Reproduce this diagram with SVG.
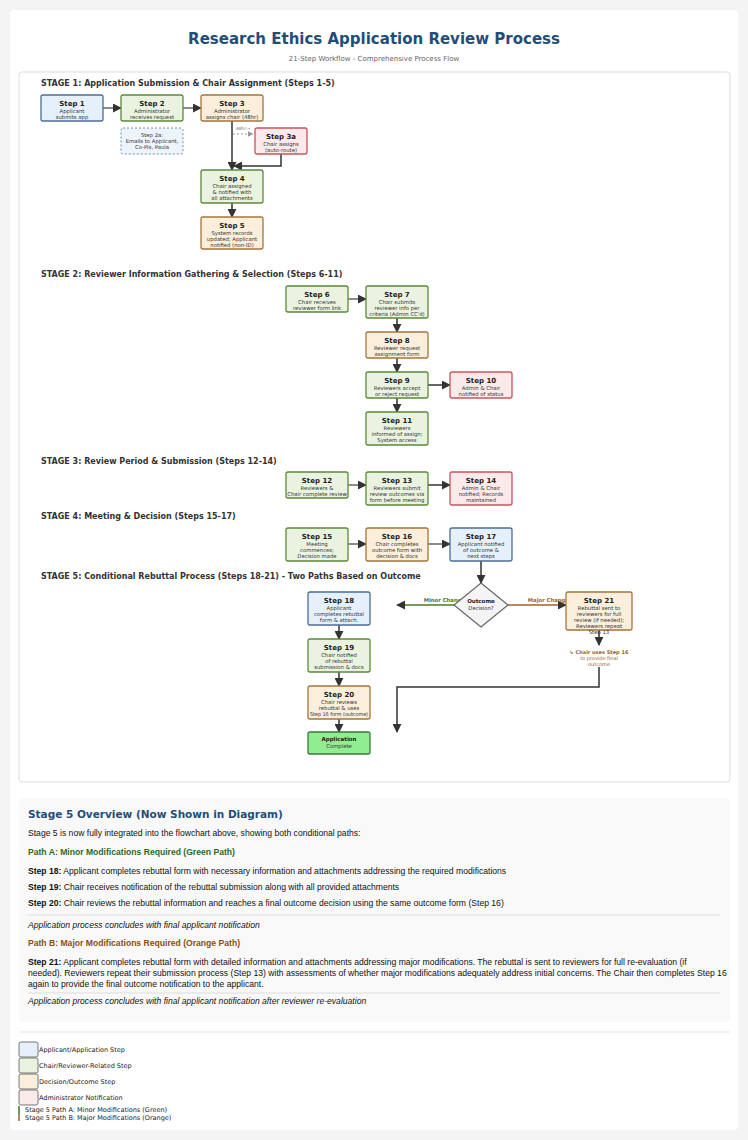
<svg xmlns="http://www.w3.org/2000/svg" width="748" height="1140" viewBox="0 0 748 1140">
<defs>
<marker id="ah" viewBox="0 0 10 10" refX="9" refY="5" markerWidth="6" markerHeight="6" orient="auto"><path d="M0,0L10,5L0,10z" fill="#333"/></marker>
<marker id="ahg" viewBox="0 0 10 10" refX="9" refY="5" markerWidth="6" markerHeight="6" orient="auto"><path d="M0,0L10,5L0,10z" fill="#999"/></marker>
<style>
text{font-family:"DejaVu Sans",sans-serif;fill:#222}
.t{font-size:7px;font-weight:bold;text-anchor:middle}
.s{font-size:5.3px;text-anchor:middle;fill:#333}
.b{fill:#e6f0fa;stroke:#4a6f96;stroke-width:1.3}
.g{fill:#eaf3df;stroke:#5b8a3a;stroke-width:1.3}
.o{fill:#fbeedb;stroke:#a5763e;stroke-width:1.3}
.r{fill:#fce9e9;stroke:#c9555c;stroke-width:1.3}
.st{font-size:8px;font-weight:bold;fill:#333}
.c{stroke:#333;stroke-width:1.5;fill:none;marker-end:url(#ah)}
.p{font-family:"Liberation Sans",Arial,sans-serif;font-size:8.6px;fill:#111}
</style>
</defs>
<rect width="748" height="1140" fill="#f4f4f4"/>
<rect x="10" y="10" width="728" height="1120" rx="4" fill="#fff"/>
<text x="374" y="44" text-anchor="middle" font-size="15" font-weight="bold" style="fill:#1f4e79">Research Ethics Application Review Process</text>
<text x="374" y="61" text-anchor="middle" font-size="7" style="fill:#666">21-Step Workflow - Comprehensive Process Flow</text>
<rect x="19" y="72" width="711" height="710" rx="3" fill="#fff" stroke="#ddd"/>
<text class="st" x="41" y="86">STAGE 1: Application Submission &amp; Chair Assignment (Steps 1-5)</text>
<text class="st" x="41" y="277">STAGE 2: Reviewer Information Gathering &amp; Selection (Steps 6-11)</text>
<text class="st" x="41" y="464">STAGE 3: Review Period &amp; Submission (Steps 12-14)</text>
<text class="st" x="41" y="519">STAGE 4: Meeting &amp; Decision (Steps 15-17)</text>
<text class="st" x="41" y="579">STAGE 5: Conditional Rebuttal Process (Steps 18-21) - Two Paths Based on Outcome</text>
<g id="connectors">
<path class="c" style="stroke:#666" d="M103,108H121"/>
<path class="c" style="stroke:#666" d="M183,108H201"/>
<path d="M233,134H253" stroke="#999" stroke-dasharray="2,2" fill="none" marker-end="url(#ahg)"/>
<text x="243" y="130" font-size="4.5" text-anchor="middle" style="fill:#777">48hr→</text>
<path class="c" d="M232,121V170"/>
<path class="c" d="M281,154V166H234"/>
<path class="c" d="M232,203V217"/>
<path class="c" style="stroke:#666" d="M348,299H366"/>
<path class="c" d="M397,318V332"/>
<path class="c" d="M397,358V372"/>
<path class="c" d="M428,385H450"/>
<path class="c" d="M397,398V412"/>
<path class="c" style="stroke:#666" d="M348,485H366"/>
<path class="c" d="M428,485H450"/>
<path class="c" style="stroke:#666" d="M348,544H366"/>
<path class="c" style="stroke:#666" d="M428,544H450"/>
<path class="c" d="M481,561V583"/>
<path class="c" style="stroke:#4a7a2a" d="M454,605H397"/>
<path class="c" style="stroke:#a0622a" d="M508,605H566"/>
<text x="446" y="602" font-size="5.3" font-weight="bold" text-anchor="middle" style="fill:#4a7a2a">Minor Changes</text>
<text x="550" y="602" font-size="5.3" font-weight="bold" text-anchor="middle" style="fill:#a0622a">Major Changes</text>
<path class="c" d="M599,630V645"/>
<path class="c" d="M339,625V639"/>
<path class="c" d="M339,672V686"/>
<path class="c" d="M339,719V732"/>
<path class="c" d="M599,667V687H397V732"/>
</g>
<g id="step1"><rect class="b" x="41" y="95" width="62" height="26" rx="2"/><text class="t" x="72" y="106">Step 1</text><text class="s" x="72" y="113">Applicant</text><text class="s" x="72" y="119">submits app</text></g>
<g id="step2"><rect class="g" x="121" y="95" width="62" height="26" rx="2"/><text class="t" x="152" y="106">Step 2</text><text class="s" x="152" y="113">Administrator</text><text class="s" x="152" y="119">receives request</text></g>
<g id="step3"><rect class="o" x="201" y="95" width="62" height="26" rx="2"/><text class="t" x="232" y="106">Step 3</text><text class="s" x="232" y="113">Administrator</text><text class="s" x="232" y="119">assigns chair (48hr)</text></g>
<g id="step2a"><rect x="121" y="128" width="62" height="26" rx="2" fill="#eef4fb" stroke="#6f8fb3" stroke-dasharray="2,2"/><text class="s" x="152" y="137">Step 2a:</text><text class="s" x="152" y="143">Emails to Applicant,</text><text class="s" x="152" y="149">Co-PIs, Paula</text></g>
<g id="step3a"><rect class="r" x="255" y="128" width="52" height="26" rx="2"/><text class="t" x="281" y="139">Step 3a</text><text class="s" x="281" y="146">Chair assigns</text><text class="s" x="281" y="152">(auto-route)</text></g>
<g id="step4"><rect class="g" x="201" y="170" width="62" height="33" rx="2"/><text class="t" x="232" y="181">Step 4</text><text class="s" x="232" y="188">Chair assigned</text><text class="s" x="232" y="194">&amp; notified with</text><text class="s" x="232" y="200">all attachments</text></g>
<g id="step5"><rect class="o" x="201" y="217" width="62" height="32" rx="2"/><text class="t" x="232" y="228">Step 5</text><text class="s" x="232" y="235">System records</text><text class="s" x="232" y="241">updated; Applicant</text><text class="s" x="232" y="247">notified (non-ID)</text></g>
<g id="step6"><rect class="g" x="286" y="286" width="62" height="26" rx="2"/><text class="t" x="317" y="297">Step 6</text><text class="s" x="317" y="304">Chair receives</text><text class="s" x="317" y="310">reviewer form link</text></g>
<g id="step7"><rect class="g" x="366" y="286" width="62" height="32" rx="2"/><text class="t" x="397" y="297">Step 7</text><text class="s" x="397" y="304">Chair submits</text><text class="s" x="397" y="310">reviewer info per</text><text class="s" x="397" y="316">criteria (Admin CC'd)</text></g>
<g id="step8"><rect class="o" x="366" y="332" width="62" height="26" rx="2"/><text class="t" x="397" y="343">Step 8</text><text class="s" x="397" y="350">Reviewer request</text><text class="s" x="397" y="356">assignment form</text></g>
<g id="step9"><rect class="g" x="366" y="372" width="62" height="26" rx="2"/><text class="t" x="397" y="383">Step 9</text><text class="s" x="397" y="390">Reviewers accept</text><text class="s" x="397" y="396">or reject request</text></g>
<g id="step10"><rect class="r" x="450" y="372" width="62" height="26" rx="2"/><text class="t" x="481" y="383">Step 10</text><text class="s" x="481" y="390">Admin &amp; Chair</text><text class="s" x="481" y="396">notified of status</text></g>
<g id="step11"><rect class="g" x="366" y="412" width="62" height="33" rx="2"/><text class="t" x="397" y="423">Step 11</text><text class="s" x="397" y="430">Reviewers</text><text class="s" x="397" y="436">informed of assign;</text><text class="s" x="397" y="442">System access</text></g>
<g id="step12"><rect class="g" x="286" y="472" width="62" height="26" rx="2"/><text class="t" x="317" y="483">Step 12</text><text class="s" x="317" y="490">Reviewers &amp;</text><text class="s" x="317" y="496">Chair complete review</text></g>
<g id="step13"><rect class="g" x="366" y="472" width="62" height="33" rx="2"/><text class="t" x="397" y="483">Step 13</text><text class="s" x="397" y="490">Reviewers submit</text><text class="s" x="397" y="496">review outcomes via</text><text class="s" x="397" y="502">form before meeting</text></g>
<g id="step14"><rect class="r" x="450" y="472" width="62" height="33" rx="2"/><text class="t" x="481" y="483">Step 14</text><text class="s" x="481" y="490">Admin &amp; Chair</text><text class="s" x="481" y="496">notified; Records</text><text class="s" x="481" y="502">maintained</text></g>
<g id="step15"><rect class="g" x="286" y="528" width="62" height="33" rx="2"/><text class="t" x="317" y="539">Step 15</text><text class="s" x="317" y="546">Meeting</text><text class="s" x="317" y="552">commences;</text><text class="s" x="317" y="558">Decision made</text></g>
<g id="step16"><rect class="o" x="366" y="528" width="62" height="33" rx="2"/><text class="t" x="397" y="539">Step 16</text><text class="s" x="397" y="546">Chair completes</text><text class="s" x="397" y="552">outcome form with</text><text class="s" x="397" y="558">decision &amp; docs</text></g>
<g id="step17"><rect class="b" x="450" y="528" width="62" height="33" rx="2"/><text class="t" x="481" y="539">Step 17</text><text class="s" x="481" y="546">Applicant notified</text><text class="s" x="481" y="552">of outcome &amp;</text><text class="s" x="481" y="558">next steps</text></g>
<g id="decision"><path d="M481,583L508,605L481,627L454,605Z" fill="#f4f4f4" stroke="#666" stroke-width="1.2"/><text class="t" x="481" y="603" style="font-size:5.5px">Outcome</text><text class="s" x="481" y="610">Decision?</text></g>
<g id="step18"><rect class="b" x="308" y="592" width="62" height="33" rx="2"/><text class="t" x="339" y="603">Step 18</text><text class="s" x="339" y="610">Applicant</text><text class="s" x="339" y="616">completes rebuttal</text><text class="s" x="339" y="622">form &amp; attach.</text></g>
<g id="step19"><rect class="g" x="308" y="639" width="62" height="33" rx="2"/><text class="t" x="339" y="650">Step 19</text><text class="s" x="339" y="657">Chair notified</text><text class="s" x="339" y="663">of rebuttal</text><text class="s" x="339" y="669">submission &amp; docs</text></g>
<g id="step20"><rect class="o" x="308" y="686" width="62" height="33" rx="2"/><text class="t" x="339" y="697">Step 20</text><text class="s" x="339" y="704">Chair reviews</text><text class="s" x="339" y="710">rebuttal &amp; uses</text><text class="s" x="339" y="716" textLength="58" lengthAdjust="spacingAndGlyphs">Step 16 form (outcome)</text></g>
<g id="complete"><rect x="308" y="732" width="62" height="22" rx="2" fill="#90ee90" stroke="#3a7a3a" stroke-width="1.3"/><text class="t" x="339" y="741" style="font-size:5.5px">Application</text><text class="s" x="339" y="748">Complete</text></g>
<g id="step21"><rect class="o" x="566" y="592" width="66" height="38" rx="2"/><text class="t" x="599" y="603">Step 21</text><text class="s" x="599" y="610">Rebuttal sent to</text><text class="s" x="599" y="616">reviewers for full</text><text class="s" x="599" y="622">review (if needed);</text><text class="s" x="599" y="628">Reviewers repeat</text><text class="s" x="599" y="634">Step 13</text></g>
<g id="note21"><text x="599" y="654" font-size="5" font-weight="bold" text-anchor="middle" style="fill:#a0622a">↳ Chair uses Step 16</text><text x="599" y="660" font-size="5" text-anchor="middle" style="fill:#a0622a">to provide final</text><text x="599" y="666" font-size="5" text-anchor="middle" style="fill:#a0622a">outcome</text></g>
<g id="overview">
<rect x="19" y="798" width="711" height="224" rx="3" fill="#f9f9f9"/>
<text x="28" y="818" font-size="10.5" font-weight="bold" style="fill:#1f4e79">Stage 5 Overview (Now Shown in Diagram)</text>
<text class="p" x="28" y="836">Stage 5 is now fully integrated into the flowchart above, showing both conditional paths:</text>
<text class="p" x="28" y="855" font-weight="bold" style="fill:#2e6b1e">Path A: Minor Modifications Required (Green Path)</text>
<text class="p" x="28" y="874"><tspan font-weight="bold">Step 18:</tspan> Applicant completes rebuttal form with necessary information and attachments addressing the required modifications</text>
<text class="p" x="28" y="890"><tspan font-weight="bold">Step 19:</tspan> Chair receives notification of the rebuttal submission along with all provided attachments</text>
<text class="p" x="28" y="906"><tspan font-weight="bold">Step 20:</tspan> Chair reviews the rebuttal information and reaches a final outcome decision using the same outcome form (Step 16)</text>
<line x1="28" y1="915" x2="720" y2="915" stroke="#ddd"/>
<text class="p" x="28" y="928" font-style="italic">Application process concludes with final applicant notification</text>
<text class="p" x="28" y="946" font-weight="bold" style="fill:#8a4e14">Path B: Major Modifications Required (Orange Path)</text>
<text class="p" x="28" y="965"><tspan font-weight="bold">Step 21:</tspan> Applicant completes rebuttal form with detailed information and attachments addressing major modifications. The rebuttal is sent to reviewers for full re-evaluation (if</text>
<text class="p" x="28" y="976">needed). Reviewers repeat their submission process (Step 13) with assessments of whether major modifications adequately address initial concerns. The Chair then completes Step 16</text>
<text class="p" x="28" y="987">again to provide the final outcome notification to the applicant.</text>
<line x1="28" y1="993" x2="720" y2="993" stroke="#ddd"/>
<text class="p" x="28" y="1004" font-style="italic">Application process concludes with final applicant notification after reviewer re-evaluation</text>
</g>
<g id="legend">
<line x1="19" y1="1032" x2="730" y2="1032" stroke="#e5e5e5"/>
<rect x="19" y="1042" width="19" height="15" rx="2" fill="#e6f0fa" stroke="#777"/><text x="39" y="1052" font-size="6.5">Applicant/Application Step</text>
<rect x="19" y="1058" width="19" height="15" rx="2" fill="#eaf3df" stroke="#777"/><text x="39" y="1068" font-size="6.5">Chair/Reviewer-Related Step</text>
<rect x="19" y="1074" width="19" height="15" rx="2" fill="#fbeedb" stroke="#777"/><text x="39" y="1084" font-size="6.5">Decision/Outcome Step</text>
<rect x="19" y="1090" width="19" height="15" rx="2" fill="#fce9e9" stroke="#777"/><text x="39" y="1100" font-size="6.5">Administrator Notification</text>
<line x1="19" y1="1106" x2="19" y2="1114" stroke="#2e7d1e" stroke-width="1.5"/><line x1="19" y1="1114" x2="19" y2="1121" stroke="#a0622a" stroke-width="1.5"/>
<text x="25" y="1112" font-size="6.5">Stage 5 Path A: Minor Modifications (Green)</text>
<text x="25" y="1120" font-size="6.5">Stage 5 Path B: Major Modifications (Orange)</text>
</g>
</svg>
